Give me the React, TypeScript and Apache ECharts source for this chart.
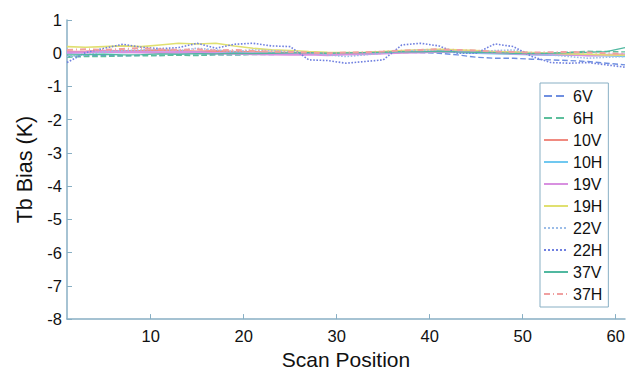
import React, { useEffect, useRef } from "react";
import * as echarts from "echarts";

const positions = [1, 3, 5, 7, 9, 11, 13, 15, 17, 19, 21, 23, 25, 27, 29, 31, 33, 35, 37, 39, 41, 43, 45, 47, 49, 51, 53, 55, 57, 59, 61];
const xTicks = [10, 20, 30, 40, 50, 60];
const channels = ["6V", "6H", "10V", "10H", "19V", "19H", "22V", "22H", "37V", "37H"];

const bias6V = [-0.1, -0.08, -0.07, -0.08, -0.06, -0.07, -0.05, -0.06, -0.04, -0.05, -0.03, -0.04, -0.02, -0.03, -0.01, 0.0, 0.0, 0.02, 0.03, 0.02, 0.0, -0.05, -0.12, -0.15, -0.15, -0.18, -0.2, -0.22, -0.25, -0.3, -0.35];
const bias6H = [-0.12, -0.1, -0.1, -0.08, -0.08, -0.07, -0.06, -0.07, -0.05, -0.05, -0.04, -0.03, -0.03, -0.02, -0.01, 0.0, 0.01, 0.0, 0.02, 0.03, 0.05, 0.06, 0.04, 0.03, 0.02, 0.0, 0.0, 0.03, 0.06, 0.05, 0.04];
const bias10V = [0.05, 0.06, 0.08, 0.07, 0.08, 0.1, 0.08, 0.06, 0.07, 0.05, 0.04, 0.03, 0.02, 0.0, -0.02, -0.03, -0.02, 0.0, 0.02, 0.04, 0.05, 0.03, 0.02, 0.0, -0.02, -0.03, -0.04, -0.05, -0.05, -0.06, -0.05];
const bias10H = [0.0, 0.02, 0.03, 0.02, 0.04, 0.03, 0.02, 0.03, 0.01, 0.02, 0.0, 0.01, -0.01, 0.0, -0.02, -0.01, 0.0, 0.01, 0.03, 0.05, 0.04, 0.02, 0.0, -0.02, -0.03, -0.05, -0.06, -0.05, -0.07, -0.08, -0.1];
const bias19V = [0.02, 0.03, 0.05, 0.04, 0.03, 0.02, 0.03, 0.02, 0.0, -0.01, -0.02, -0.03, -0.04, -0.03, -0.05, -0.03, -0.02, 0.0, 0.02, 0.03, 0.05, 0.06, 0.04, 0.02, 0.0, -0.02, -0.03, -0.04, -0.06, -0.05, -0.04];
const bias19H = [0.2, 0.18, 0.2, 0.22, 0.2, 0.25, 0.3, 0.28, 0.3, 0.22, 0.15, 0.1, 0.08, 0.05, 0.03, 0.02, 0.03, 0.05, 0.08, 0.1, 0.12, 0.1, 0.08, 0.05, 0.04, 0.02, 0.0, -0.02, -0.03, -0.05, -0.06];
const bias22V = [-0.1, -0.05, 0.05, 0.08, 0.1, 0.12, 0.08, 0.15, 0.1, 0.05, 0.1, 0.08, 0.05, 0.0, -0.05, -0.1, -0.05, 0.0, 0.05, 0.1, 0.08, 0.05, 0.02, 0.08, 0.1, 0.0, -0.05, -0.1, -0.15, -0.12, -0.1];
const bias22H = [-0.28, 0.02, 0.15, 0.27, 0.18, 0.14, 0.17, 0.3, 0.15, 0.27, 0.3, 0.22, 0.2, -0.2, -0.22, -0.3, -0.25, -0.2, 0.25, 0.3, 0.22, 0.0, 0.0, 0.28, 0.2, -0.1, -0.28, -0.3, -0.28, -0.35, -0.42];
const bias37V = [-0.05, -0.04, -0.03, -0.05, -0.04, -0.02, -0.03, -0.01, -0.02, 0.0, -0.01, 0.0, 0.01, 0.02, 0.0, 0.01, 0.02, 0.03, 0.05, 0.04, 0.06, 0.04, 0.03, 0.02, 0.0, -0.01, 0.0, 0.02, 0.03, 0.05, 0.17];
const bias37H = [0.1, 0.12, 0.1, 0.13, 0.15, 0.12, 0.1, 0.12, 0.08, 0.1, 0.07, 0.05, 0.04, 0.02, 0.0, 0.02, 0.03, 0.05, 0.08, 0.1, 0.12, 0.1, 0.08, 0.05, 0.04, 0.02, 0.03, 0.04, 0.02, 0.0, -0.02];

const seriesValues = [bias6V, bias6H, bias10V, bias10H, bias19V, bias19H, bias22V, bias22H, bias37V, bias37H];
const seriesStyles: any[] = [
  { color: "#6f8fe0", type: "dashed", width: 1.4 },
  { color: "#5cbf9c", type: "dashed", width: 1.4 },
  { color: "#f08a80", type: "solid", width: 1.6 },
  { color: "#70c8f0", type: "solid", width: 1.3 },
  { color: "#d890e0", type: "solid", width: 2.5 },
  { color: "#e0e070", type: "solid", width: 1.6 },
  { color: "#9cbde8", type: "dotted", width: 1.6 },
  { color: "#7080e0", type: "dotted", width: 1.6 },
  { color: "#50b8a0", type: "solid", width: 1.3 },
  { color: "#f0a0a0", type: [6, 3, 1, 3], width: 2 },
];

const FONT = 'Arial, "Liberation Sans", sans-serif';
const AXIS_COLOR = "#88afc4";

export default function App() {
  const ref = useRef<HTMLDivElement>(null);
  useEffect(() => {
    document.body.style.margin = "0";
    const chart = echarts.init(ref.current!, null, { renderer: "svg" });
    chart.setOption({
      animation: false,
      backgroundColor: "#ffffff",
      textStyle: { fontFamily: FONT },
      grid: { left: 67, right: 4, top: 20, bottom: 41 },
      legend: {
        orient: "vertical",
        left: 540,
        top: 83,
        padding: [5, 6, 5, 3],
        itemWidth: 24,
        itemHeight: 16,
        itemGap: 6,
        borderColor: AXIS_COLOR,
        borderWidth: 1,
        backgroundColor: "#ffffff",
        itemStyle: { opacity: 0 },
        textStyle: { fontSize: 16, color: "#111", fontFamily: FONT, lineHeight: 16 },
        data: channels,
      },
      xAxis: {
        type: "value",
        min: 1,
        max: 61,
        name: "Scan Position",
        nameLocation: "middle",
        nameGap: 20,
        nameTextStyle: { fontSize: 21, color: "#111", fontFamily: FONT },
        axisLine: { show: true, onZero: false, lineStyle: { color: AXIS_COLOR, width: 1.5 } },
        axisTick: { show: true, inside: true, length: 5, lineStyle: { color: AXIS_COLOR }, customValues: xTicks },
        axisLabel: { fontSize: 16.5, color: "#111", margin: 8, customValues: xTicks },
        splitLine: { show: false },
      },
      yAxis: {
        type: "value",
        min: -8,
        max: 1,
        interval: 1,
        name: "Tb Bias (K)",
        nameLocation: "middle",
        nameGap: 24,
        nameTextStyle: { fontSize: 21.5, color: "#111", fontFamily: FONT },
        axisLine: { show: true, onZero: false, lineStyle: { color: AXIS_COLOR, width: 1.5 } },
        axisTick: { show: true, inside: true, length: 5, lineStyle: { color: AXIS_COLOR } },
        axisLabel: { fontSize: 16.5, color: "#111", margin: 5 },
        splitLine: { show: false },
      },
      series: channels.map((name, i) => ({
        name,
        type: "line",
        symbol: "none",
        showSymbol: false,
        smooth: false,
        lineStyle: seriesStyles[i],
        itemStyle: { color: seriesStyles[i].color },
        data: positions.map((p, j) => [p, seriesValues[i][j]]),
      })),
    });
    return () => chart.dispose();
  }, []);
  return <div ref={ref} style={{ width: 629, height: 375 }} />;
}
